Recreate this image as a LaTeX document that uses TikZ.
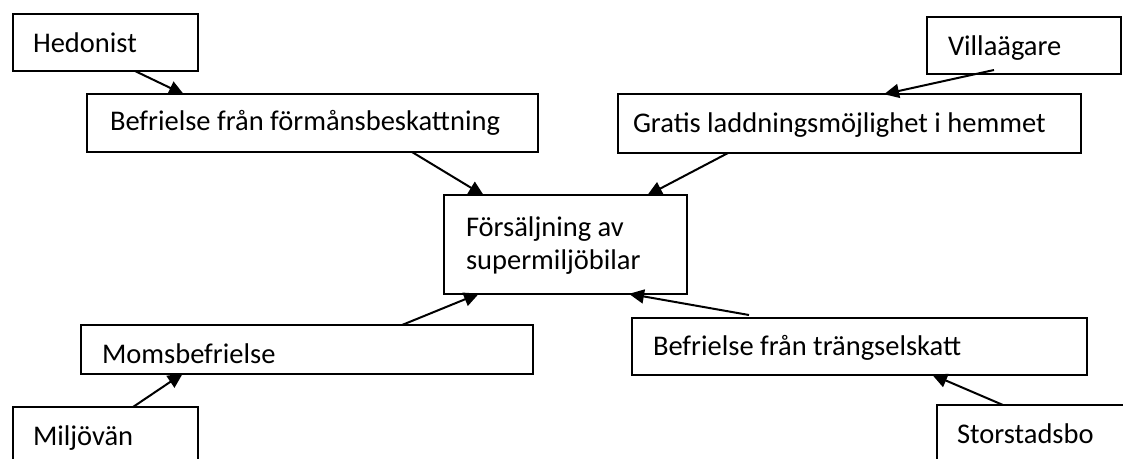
\documentclass[tikz,border=0pt]{standalone}
\usepackage{fontspec}
\setmainfont{Carlito}
\usetikzlibrary{arrows.meta}
\begin{document}
\begin{tikzpicture}[x=1pt,y=-1pt,
  box/.style={draw=black, line width=2pt, fill=white, rectangle, inner sep=0pt, outer sep=0pt, anchor=north west},
  lbl/.style={inner sep=0pt, outer sep=0pt, anchor=base west, font=\fontsize{28.5pt}{34pt}\selectfont},
  arr/.style={draw=black, line width=2pt, -{Triangle[length=15pt,width=14pt]}, shorten >=-1pt}]
\useasboundingbox (0,0) rectangle (1123,458);
\clip (0,0) rectangle (1123,458);

% boxes
\node[box, minimum width=185pt, minimum height=57pt] (hed)  at (13,14)  {};
\node[box, minimum width=451pt, minimum height=58pt] (bef)  at (87,94)  {};
\node[box, minimum width=194pt, minimum height=57pt] (vill) at (927,17) {};
\node[box, minimum width=463pt, minimum height=59pt] (grat) at (618,94) {};
\node[box, minimum width=243pt, minimum height=99pt] (ctr)  at (444,195) {};
\node[box, minimum width=452pt, minimum height=49pt] (moms) at (81,325) {};
\node[box, minimum width=455pt, minimum height=57pt] (trng) at (632,318) {};
\node[box, minimum width=185pt, minimum height=70pt] (milj) at (13,407) {};
\node[box, minimum width=200pt, minimum height=70pt] (stor) at (937,405) {};

% labels
\node[lbl] (hed-t)  at ([xshift=20pt,yshift=-38pt]hed.north west)  {Hedonist};
\node[lbl] (bef-t)  at ([xshift=23pt,yshift=-36pt]bef.north west)  {Befrielse från förmånsbeskattning};
\node[lbl] (vill-t) at ([xshift=21pt,yshift=-38pt]vill.north west) {Villaägare};
\node[lbl] (grat-t) at ([xshift=15pt,yshift=-38pt]grat.north west) {Gratis laddningsmöjlighet i hemmet};
\node[lbl] (ctr-t1) at ([xshift=22pt,yshift=-41pt]ctr.north west)  {Försäljning av};
\node[lbl] (ctr-t2) at ([xshift=22pt,yshift=-74pt]ctr.north west)  {supermiljöbilar};
\node[lbl] (moms-t) at ([xshift=21pt,yshift=-38pt]moms.north west) {Momsbefrielse};
\node[lbl] (trng-t) at ([xshift=21pt,yshift=-37pt]trng.north west) {Befrielse från trängselskatt};
\node[lbl] (milj-t) at ([xshift=20pt,yshift=-38pt]milj.north west) {Miljövän};
\node[lbl] (stor-t) at ([xshift=20pt,yshift=-38pt]stor.north west) {Storstadsbo};

% connectors
\draw[arr] ([xshift=122pt]hed.south west)  -- ([xshift=96pt]bef.north west);
\draw[arr] ([xshift=325pt]bef.south west)  -- ([xshift=39pt]ctr.north west);
\draw[arr] ([xshift=67pt,yshift=4pt]vill.south west) -- ([xshift=267pt]grat.north west);
\draw[arr] ([xshift=110pt]grat.south west) -- ([xshift=204pt]ctr.north west);
\draw[arr] ([xshift=321pt]moms.north west) -- ([xshift=34pt]ctr.south west);
\draw[arr] ([xshift=120pt]milj.north west) -- ([xshift=101pt]moms.south west);
\draw[arr] ([xshift=117pt,yshift=3pt]trng.north west) -- ([xshift=186pt]ctr.south west);
\draw[arr] ([xshift=66pt]stor.north west)  -- ([xshift=301pt]trng.south west);
\end{tikzpicture}
\end{document}
